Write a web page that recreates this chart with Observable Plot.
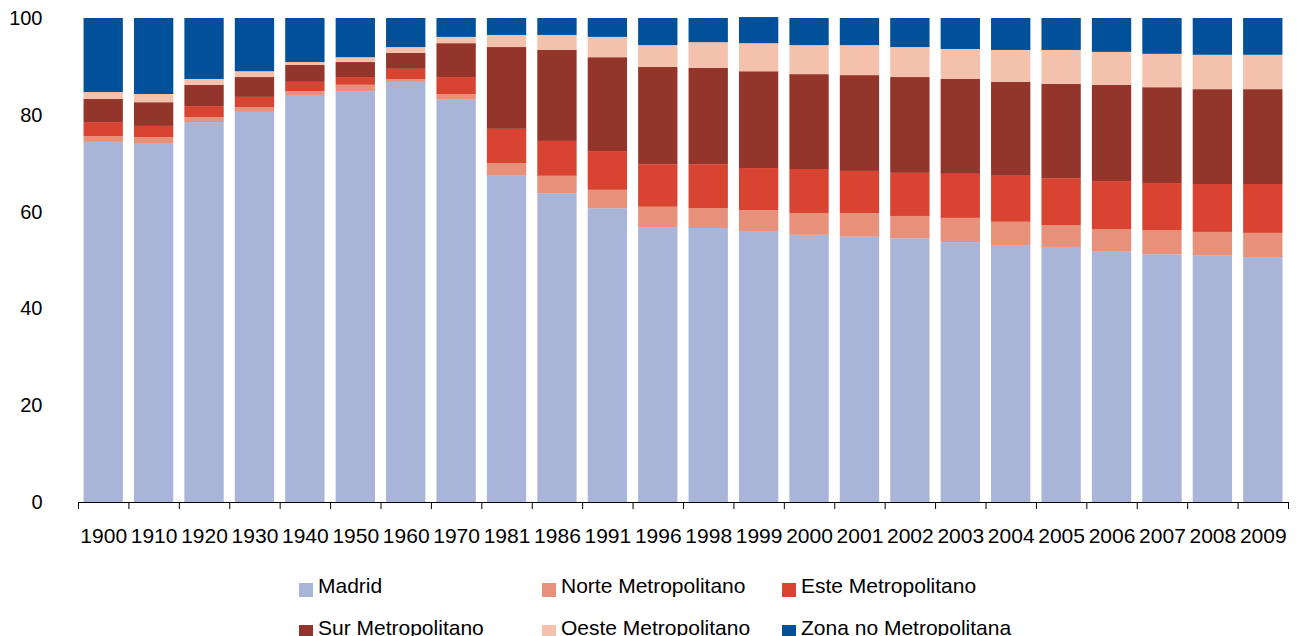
<!DOCTYPE html>
<html>
<head>
<meta charset="utf-8">
<script src="https://cdn.jsdelivr.net/npm/d3@7"></script>
<script src="https://cdn.jsdelivr.net/npm/@observablehq/plot@0.6"></script>
<style>
  html, body { margin: 0; padding: 0; background: #fff; overflow: hidden; }
  #chart svg { display: block; }
  .legend {
    margin-top: 5px;
    margin-left: 299px;
    display: grid;
    grid-template-columns: 243px 240px auto;
    grid-auto-rows: 42px;
    font-family: "Liberation Sans", Arial, sans-serif;
    font-size: 21px;
    color: #000;
  }
  .legend .item { display: flex; align-items: center; white-space: nowrap; }
  .legend .sw { width: 14px; height: 14px; margin-right: 5px; margin-top: 8px; flex: none; }
</style>
</head>
<body>
<div id="chart"></div>
<div class="legend" id="legend"></div>
<script>
const years = ["1900","1910","1920","1930","1940","1950","1960","1970","1981","1986","1991","1996","1998","1999","2000","2001","2002","2003","2004","2005","2006","2007","2008","2009"];
const regions = ["Madrid","Norte Metropolitano","Este Metropolitano","Sur Metropolitano","Oeste Metropolitano","Zona no Metropolitana"];
const colors = ["#A8B4D8","#E8917A","#D94331","#94352B","#F3C1AC","#005199"];
const yTicks = [0, 20, 40, 60, 80, 100];

const madrid = [74.4,74.0,78.5,80.6,84.1,84.9,86.8,83.1,67.4,63.8,60.7,56.8,56.6,56.0,55.2,54.8,54.5,53.7,53.1,52.7,51.7,51.2,51.0,50.6];
const norte  = [1.2,1.4,1.0,1.0,0.8,1.3,0.6,1.2,2.6,3.6,3.8,4.2,4.1,4.3,4.5,4.9,4.6,5.0,4.8,4.5,4.7,5.0,4.8,5.0];
const este   = [2.9,2.3,2.3,2.1,1.9,1.6,2.1,3.5,7.1,7.2,8.0,8.8,9.1,8.7,9.1,8.7,8.9,9.1,9.5,9.7,9.9,9.7,9.9,10.1];
const sur    = [4.8,4.9,4.4,4.1,3.5,3.1,3.3,7.0,16.9,18.8,19.4,20.1,19.9,20.0,19.6,19.8,19.8,19.6,19.4,19.5,19.9,19.8,19.6,19.6];
const oeste  = [1.4,1.7,1.2,1.2,0.6,1.0,1.2,1.3,2.5,3.1,4.2,4.5,5.3,5.8,6.0,6.2,6.2,6.2,6.6,7.0,6.8,6.9,7.1,7.1];
const zona   = [15.3,15.7,12.6,11.0,9.1,8.1,6.0,3.9,3.5,3.5,3.9,5.6,5.0,5.4,5.6,5.6,6.0,6.4,6.6,6.6,7.0,7.4,7.6,7.6];

const series = [madrid, norte, este, sur, oeste, zona];
const data = regions.flatMap((r, i) => years.map((y, j) => ({year: y, region: r, value: series[i][j]})));

const W = 1297, H = 560, mL = 78, mR = 9, mT = 18, mB = 58;
const step = (W - mL - mR) / years.length;

const chart = Plot.plot({
  width: W,
  height: H,
  marginTop: mT,
  marginBottom: mB,
  marginLeft: mL,
  marginRight: mR,
  style: {fontFamily: "'Liberation Sans', Arial, sans-serif", fontSize: "20px", color: "#000", background: "#fff"},
  x: {domain: years, paddingInner: 0.22, paddingOuter: 0.11, round: false, label: null, axis: null},
  y: {domain: [0, 100], ticks: yTicks, label: null, tickSize: 0, tickPadding: 36},
  color: {domain: regions, range: colors},
  marks: [
    Plot.barY(data, {x: "year", y: "value", fill: "region"}),
    Plot.axisX({tickSize: 0, tickPadding: 26, fontSize: 21, label: null}),
    Plot.ruleY([0], {stroke: "#000", strokeWidth: 1}),
    Plot.tickX(years, {x: d => d, dx: -step / 2, insetTop: H - mT - mB - 7, dy: 7, stroke: "#000"}),
    Plot.tickX(years.slice(-1), {x: d => d, dx: step / 2, insetTop: H - mT - mB - 7, dy: 7, stroke: "#000"})
  ]
});
document.getElementById("chart").appendChild(chart);

const legend = document.getElementById("legend");
regions.forEach((r, i) => {
  const item = document.createElement("div");
  item.className = "item";
  const sw = document.createElement("span");
  sw.className = "sw";
  sw.style.background = colors[i];
  const t = document.createElement("span");
  t.textContent = r;
  item.appendChild(sw);
  item.appendChild(t);
  legend.appendChild(item);
});
</script>
</body>
</html>
